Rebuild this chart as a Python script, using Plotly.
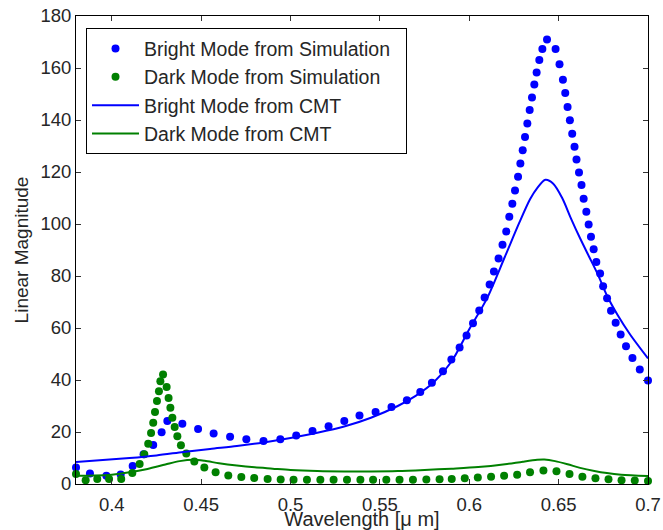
import plotly.graph_objects as go

# ---- data ----
bright_sim_x = [0.380, 0.3878, 0.3970, 0.4050, 0.4117, 0.4178, 0.4232, 0.4279, 0.4311, 0.4395,
                0.4483, 0.4570, 0.4662, 0.4753, 0.4849, 0.4943, 0.5032, 0.5123, 0.5213, 0.5301,
                0.5386, 0.5476, 0.5565, 0.5651, 0.5726, 0.5791, 0.5853, 0.5900, 0.5946, 0.5985,
                0.6021, 0.6056, 0.6086, 0.6114, 0.6138, 0.6164, 0.6186, 0.6207, 0.6224, 0.6241,
                0.6256, 0.6273, 0.6286, 0.6299, 0.6312, 0.6325, 0.6338, 0.6351, 0.6364, 0.6377,
                0.6392, 0.6409, 0.6435, 0.6483, 0.6505, 0.6524, 0.6537, 0.6550, 0.6563, 0.6576,
                0.6589, 0.6600, 0.6614, 0.6628, 0.6640, 0.6655, 0.6668, 0.6681, 0.6696, 0.6711,
                0.6732, 0.6749, 0.6771, 0.6793, 0.6819, 0.6847, 0.6877, 0.6913, 0.6954, 0.7000]
bright_sim_y = [6.3, 4.0, 3.2, 3.7, 6.9, 11.4, 15.0, 19.9, 24.2, 23.2,
                21.2, 19.4, 18.2, 17.2, 16.5, 17.2, 18.7, 20.4, 22.2, 24.2,
                26.3, 27.7, 29.6, 32.2, 35.4, 38.9, 43.4, 47.9, 52.5, 57.1,
                61.8, 66.7, 71.7, 76.7, 81.7, 86.7, 92.0, 97.1, 102.8, 107.8,
                112.9, 118.2, 123.3, 128.4, 133.5, 138.7, 143.8, 148.7, 153.7, 158.3,
                163.1, 167.3, 171.0, 167.3, 161.4, 155.5, 150.4, 145.0, 139.9, 134.7,
                129.7, 124.8, 119.8, 115.0, 109.7, 104.7, 99.8, 95.1, 90.3, 85.4,
                81.0, 76.1, 71.4, 66.6, 62.0, 57.5, 53.0, 48.5, 44.0, 39.8]

dark_sim_x = [0.380, 0.3854, 0.3919, 0.3985, 0.4053, 0.4115, 0.4156, 0.4182, 0.4204, 0.4220,
              0.4232, 0.4242, 0.4253, 0.4264, 0.4272, 0.4287, 0.4307, 0.4318, 0.4328, 0.4339,
              0.4352, 0.4367, 0.4387, 0.4417, 0.4462, 0.4518, 0.4581, 0.4652, 0.4725, 0.4797,
              0.4872, 0.4945, 0.5017, 0.5092, 0.5167, 0.5241, 0.5316, 0.5391, 0.5462, 0.5536,
              0.5610, 0.5685, 0.5760, 0.5834, 0.5902, 0.5975, 0.6048, 0.6122, 0.6195, 0.6268,
              0.6340, 0.6415, 0.6488, 0.6561, 0.6633, 0.6706, 0.6779, 0.6852, 0.6926, 0.7000]
dark_sim_y = [3.85, 1.4, 1.9, 1.9, 1.9, 4.2, 7.7, 11.4, 15.5, 19.6,
              23.6, 27.7, 31.9, 35.7, 39.5, 42.1, 37.3, 33.1, 29.3, 25.5,
              21.9, 18.4, 14.9, 11.7, 8.7, 6.3, 4.5, 3.3, 2.7, 2.3,
              1.9, 1.7, 1.6, 1.6, 1.6, 1.6, 1.6, 1.6, 1.6, 1.6,
              1.6, 1.6, 1.7, 1.8, 1.9, 2.2, 2.5, 2.8, 3.2, 3.6,
              4.5, 5.2, 4.9, 3.8, 2.8, 2.2, 1.8, 1.4, 1.3, 1.15]

bright_cmt_x = [0.380, 0.395, 0.410, 0.425, 0.440, 0.455, 0.470, 0.485, 0.500, 0.515,
                0.530, 0.545, 0.560, 0.570, 0.580, 0.590, 0.600, 0.610, 0.620, 0.628,
                0.634, 0.638, 0.6426, 0.647, 0.652, 0.657, 0.662, 0.667, 0.672, 0.677,
                0.683, 0.690, 0.700]
bright_cmt_y = [8.5, 9.2, 10.0, 11.0, 12.3, 13.5, 14.6, 16.0, 17.7, 19.7,
                22.1, 25.5, 30.0, 33.9, 39.0, 47.0, 59.5, 71.5, 87.5, 100.5,
                109.5, 113.8, 117.0, 115.5, 110.0, 102.0, 94.5, 87.5, 80.5, 72.5,
                65.0, 57.5, 48.3]

dark_cmt_x = [0.380, 0.390, 0.400, 0.410, 0.420, 0.430, 0.438, 0.4458, 0.452, 0.460,
              0.470, 0.480, 0.490, 0.500, 0.515, 0.530, 0.545, 0.560, 0.575, 0.590,
              0.605, 0.620, 0.630, 0.638, 0.642, 0.648, 0.655, 0.662, 0.670, 0.677,
              0.685, 0.700]
dark_cmt_y = [3.2, 3.3, 3.6, 4.5, 5.8, 7.5, 8.8, 9.3, 8.9, 8.0,
              7.1, 6.4, 5.9, 5.4, 5.0, 4.85, 4.85, 5.0, 5.4, 5.9,
              6.5, 7.6, 8.6, 9.3, 9.4, 8.8, 7.6, 6.2, 5.0, 4.2,
              3.6, 3.1]

x_ticks = [0.4, 0.45, 0.5, 0.55, 0.6, 0.65, 0.7]
x_tick_labels = ["0.4", "0.45", "0.5", "0.55", "0.6", "0.65", "0.7"]
y_ticks = [0, 20, 40, 60, 80, 100, 120, 140, 160, 180]
y_tick_labels = [str(v) for v in y_ticks]

BLUE = "#0000FF"
GREEN = "#008000"
FONT = "Liberation Sans, Arial, Helvetica, sans-serif"
TXT = "#262626"
PAD = "\u00a0\u00a0"  # a little room on the legend's right side

fig = go.Figure()
fig.add_trace(go.Scatter(x=bright_sim_x, y=bright_sim_y, mode="markers",
                         name="Bright Mode from Simulation" + PAD,
                         marker=dict(color=BLUE, size=8), cliponaxis=False))
fig.add_trace(go.Scatter(x=dark_sim_x, y=dark_sim_y, mode="markers",
                         name="Dark Mode from Simulation",
                         marker=dict(color=GREEN, size=8), cliponaxis=False))
fig.add_trace(go.Scatter(x=bright_cmt_x, y=bright_cmt_y, mode="lines",
                         name="Bright Mode from CMT",
                         line=dict(color=BLUE, width=2, shape="spline", smoothing=0.8)))
fig.add_trace(go.Scatter(x=dark_cmt_x, y=dark_cmt_y, mode="lines",
                         name="Dark Mode from CMT",
                         line=dict(color=GREEN, width=2, shape="spline", smoothing=0.8)))

axis_common = dict(showline=True, linecolor="black", linewidth=1, mirror="ticks",
                   ticks="inside", ticklen=5, tickcolor="#333333", tickwidth=1,
                   showgrid=False, zeroline=False,
                   tickfont=dict(family=FONT, size=18.5, color=TXT))

fig.update_xaxes(range=[0.38, 0.7], tickvals=x_ticks, ticktext=x_tick_labels,
                 title=dict(text="Wavelength [μ m]", font=dict(family=FONT, size=20, color=TXT),
                            standoff=1),
                 ticklabelstandoff=4, automargin=False, **axis_common)
fig.update_yaxes(range=[0, 180], tickvals=y_ticks, ticktext=y_tick_labels,
                 title=dict(text="Linear Magnitude", font=dict(family=FONT, size=19, color=TXT),
                            standoff=6),
                 ticklabelstandoff=0, automargin=False, **axis_common)

fig.update_layout(
    width=663, height=530,
    margin=dict(l=76, r=15, t=16, b=46),
    paper_bgcolor="white", plot_bgcolor="white",
    font=dict(family=FONT, size=18, color=TXT),
    legend=dict(x=0.0175, y=0.9737, xanchor="left", yanchor="top",
                bgcolor="white", bordercolor="black", borderwidth=1,
                font=dict(family=FONT, size=19.5, color=TXT),
                itemwidth=47, tracegroupgap=0),
    showlegend=True,
)

fig.write_html("out.html", config={"displayModeBar": False},
               post_script="document.body.style.margin='0';document.body.style.padding='0';")
